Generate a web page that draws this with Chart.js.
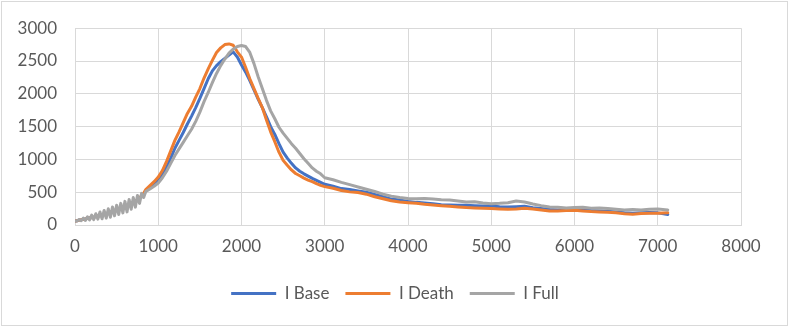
<!DOCTYPE html>
<html>
<head>
<meta charset="utf-8">
<script src="https://cdn.jsdelivr.net/npm/chart.js@4/dist/chart.umd.min.js"></script>
<style>
  body { margin: 0; background: #fff; }
  #wrap { position: relative; width: 790px; height: 328px; }
  #frame { position: absolute; left: 1px; top: 1px; width: 785px; height: 323px; border: 1px solid #d9d9d9; pointer-events: none; }
</style>
</head>
<body>
<div id="wrap">
  <canvas id="chart" width="790" height="328"></canvas>
  <div id="frame"></div>
</div>
<script>
// time axis (shared by all three series)
const t = [
  0, 25, 50, 75, 100, 125, 150, 175, 200, 225, 250, 275, 300, 325, 350, 375, 400, 425,
  450, 475, 500, 525, 550, 575, 600, 625, 650, 675, 700, 725, 750, 775, 800, 825,
  850, 900, 950, 1000, 1050, 1100, 1150, 1200, 1250, 1300, 1350, 1400, 1450, 1500,
  1550, 1600, 1650, 1700, 1750, 1800, 1850, 1900, 1950, 2000, 2050, 2100, 2150, 2200,
  2250, 2300, 2350, 2400, 2450, 2500, 2550, 2600, 2650, 2700, 2750, 2800, 2850, 2900,
  2950, 3000, 3100, 3200, 3300, 3400, 3500, 3600, 3700, 3800, 3900, 4000, 4100, 4200,
  4300, 4400, 4500, 4600, 4700, 4800, 4900, 5000, 5100, 5200, 5300, 5400, 5500, 5600,
  5700, 5800, 5900, 6000, 6100, 6200, 6300, 6400, 6500, 6600, 6700, 6800, 6900, 7000, 7120
];

const iBase = [
  60, 66, 75, 80, 88, 93, 100, 106, 115, 120, 128, 136, 145, 152, 160, 170, 182, 192,
  205, 215, 228, 240, 255, 268, 282, 295, 312, 328, 345, 365, 385, 410, 440, 470,
  520, 570, 620, 680, 770, 880, 1020, 1170, 1290, 1410, 1540, 1660, 1790, 1930,
  2080, 2230, 2350, 2430, 2490, 2540, 2590, 2640, 2560, 2440, 2330, 2200, 2060, 1920,
  1790, 1650, 1500, 1380, 1240, 1110, 1020, 940, 870, 820, 780, 745, 710, 680,
  650, 620, 590, 555, 540, 520, 500, 465, 430, 395, 380, 360, 345, 335,
  325, 310, 305, 300, 300, 295, 290, 290, 280, 275, 280, 285, 265, 250,
  235, 230, 235, 235, 230, 220, 215, 210, 200, 185, 180, 185, 190, 185, 160
];

const iDeath = [
  60, 66, 75, 80, 88, 93, 100, 106, 115, 120, 128, 136, 145, 152, 160, 170, 182, 192,
  205, 215, 228, 240, 255, 268, 282, 295, 312, 328, 345, 365, 385, 410, 445, 485,
  540, 600, 660, 730, 830, 970, 1130, 1290, 1420, 1560, 1700, 1810, 1950, 2080,
  2240, 2380, 2510, 2630, 2700, 2750, 2760, 2740, 2640, 2560, 2400, 2230, 2080, 1930,
  1790, 1600, 1420, 1270, 1110, 985, 910, 840, 785, 750, 715, 685, 660, 630,
  605, 585, 560, 525, 505, 495, 470, 430, 400, 370, 350, 340, 330, 315,
  305, 295, 285, 275, 265, 260, 255, 250, 245, 240, 245, 255, 245, 230,
  215, 215, 220, 225, 215, 205, 200, 195, 185, 170, 165, 175, 180, 180, 185
];

const iFull = [
  60, 62, 85, 66, 105, 70, 125, 78, 150, 82, 172, 90, 198, 94, 222, 105, 248, 118,
  275, 140, 302, 160, 330, 185, 360, 200, 390, 240, 418, 272, 450, 330, 482, 420,
  510, 550, 590, 640, 720, 820, 940, 1060, 1160, 1260, 1360, 1460, 1580, 1720,
  1880, 2020, 2170, 2310, 2430, 2530, 2620, 2680, 2720, 2735, 2720, 2630, 2460, 2260,
  2080, 1900, 1740, 1620, 1490, 1400, 1320, 1240, 1170, 1090, 1010, 940, 870, 820,
  780, 720, 690, 650, 615, 580, 545, 510, 470, 440, 420, 405, 400, 405,
  395, 385, 380, 365, 350, 355, 335, 325, 330, 340, 365, 350, 320, 295,
  275, 270, 260, 265, 270, 255, 260, 250, 240, 230, 235, 230, 240, 245, 230
];

const seriesNames = ['I Base', 'I Death', 'I Full'];
const seriesColors = ['#4472C4', '#ED7D31', '#A5A5A5'];
const seriesValues = [iBase, iDeath, iFull];

const xTicks = { min: 0, max: 8000, step: 1000 };
const yTicks = { min: 0, max: 3000, step: 500 };

const textColor = '#595959';
const gridColor = '#d9d9d9';
const font = { family: 'Lato, "Open Sans", sans-serif', size: 17 };

const datasets = seriesValues.map((vals, i) => ({
  label: seriesNames[i],
  data: t.map((x, k) => ({ x: x, y: vals[k] })),
  borderColor: seriesColors[i],
  backgroundColor: seriesColors[i],
  borderWidth: 3,
  borderJoinStyle: 'round',
  borderCapStyle: 'round',
  pointRadius: 0,
  showLine: true,
  tension: 0,
  // Excel draws later series on top
  order: seriesValues.length - 1 - i
}));

new Chart(document.getElementById('chart').getContext('2d'), {
  type: 'scatter',
  data: { datasets },
  options: {
    responsive: false,
    animation: false,
    layout: { padding: { left: 0, right: 0, top: 26, bottom: 16 } },
    plugins: {
      tooltip: { enabled: false },
      legend: {
        position: 'bottom',
        labels: {
          font: font,
          color: textColor,
          boxWidth: 45,
          boxHeight: 3,
          padding: 16,
          sort: (a, b) => a.datasetIndex - b.datasetIndex,
          generateLabels: chart => {
            const items = Chart.defaults.plugins.legend.labels.generateLabels(chart);
            items.forEach(it => { it.lineWidth = 0; it.fillStyle = it.strokeStyle; });
            return items;
          }
        }
      }
    },
    scales: {
      x: {
        type: 'linear',
        min: xTicks.min,
        max: xTicks.max,
        ticks: { stepSize: xTicks.step, font: font, color: textColor, padding: 11, maxRotation: 0,
                 callback: v => String(v) },
        grid: { color: gridColor, drawTicks: false },
        border: { color: gridColor },
        afterFit: scale => { scale.height = 44; }
      },
      y: {
        min: yTicks.min,
        max: yTicks.max,
        ticks: { stepSize: yTicks.step, font: font, color: textColor, padding: 18,
                 callback: v => String(v) },
        grid: { color: gridColor, drawTicks: false },
        border: { color: gridColor },
        afterFit: scale => { scale.width = 75; }
      },
      // empty right-hand spacer so the plot ends at 8000 while the legend stays centred on the page
      yRight: {
        position: 'right',
        display: true,
        grid: { display: false },
        ticks: { display: false },
        border: { display: false },
        afterFit: scale => { scale.width = 49; }
      }
    }
  }
});
</script>
</body>
</html>
